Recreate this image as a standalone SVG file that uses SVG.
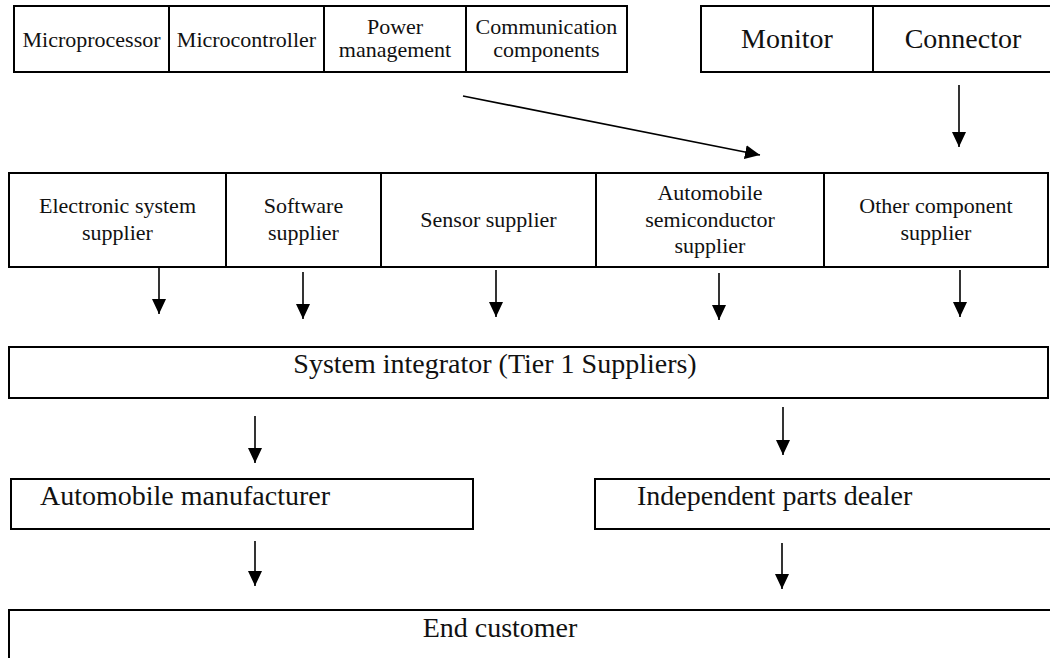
<svg xmlns="http://www.w3.org/2000/svg" width="1050" height="658" viewBox="0 0 1050 658">
  <style>
    .box { fill: #ffffff; stroke: #000000; stroke-width: 2; }
    .div { stroke: #000000; stroke-width: 2; }
    .t { font-family: "Liberation Serif", "Times New Roman", serif; fill: #111111; text-anchor: middle; }
    .s { font-size: 22px; }
    .l { font-size: 28px; }
    .arrow { stroke: #000000; stroke-width: 1.6; fill: none; marker-end: url(#head); }
  </style>
  <defs>
    <marker id="head" viewBox="0 0 15 14" refX="15" refY="7" markerWidth="15" markerHeight="14" markerUnits="userSpaceOnUse" orient="auto">
      <path d="M0,0 L15,7 L0,14 Z" fill="#000000"/>
    </marker>
  </defs>
  <rect width="1050" height="658" fill="#ffffff"/>

  <!-- semiconductor component categories -->
  <g id="components">
    <rect class="box" x="14" y="6" width="613" height="66"/>
    <line class="div" x1="169" y1="6" x2="169" y2="72"/>
    <line class="div" x1="324" y1="6" x2="324" y2="72"/>
    <line class="div" x1="466" y1="6" x2="466" y2="72"/>
    <text class="t s" x="91.5" y="47">Microprocessor</text>
    <text class="t s" x="246.5" y="47">Microcontroller</text>
    <text class="t s" x="395" y="34">Power</text>
    <text class="t s" x="395" y="57">management</text>
    <text class="t s" x="546.5" y="34">Communication</text>
    <text class="t s" x="546.5" y="57">components</text>
  </g>

  <!-- other parts -->
  <g id="other-parts">
    <rect class="box" x="701" y="6" width="370" height="66"/>
    <line class="div" x1="873" y1="6" x2="873" y2="72"/>
    <text class="t l" x="787" y="48">Monitor</text>
    <text class="t l" x="963" y="48">Connector</text>
  </g>

  <!-- supplier tier -->
  <g id="suppliers">
    <rect class="box" x="9" y="173" width="1039" height="94"/>
    <line class="div" x1="226" y1="173" x2="226" y2="267"/>
    <line class="div" x1="381" y1="173" x2="381" y2="267"/>
    <line class="div" x1="596" y1="173" x2="596" y2="267"/>
    <line class="div" x1="824" y1="173" x2="824" y2="267"/>
    <text class="t s" x="117.5" y="213">Electronic system</text>
    <text class="t s" x="117.5" y="240">supplier</text>
    <text class="t s" x="303.5" y="213">Software</text>
    <text class="t s" x="303.5" y="240">supplier</text>
    <text class="t s" x="488.5" y="227">Sensor supplier</text>
    <text class="t s" x="710" y="200">Automobile</text>
    <text class="t s" x="710" y="227">semiconductor</text>
    <text class="t s" x="710" y="253">supplier</text>
    <text class="t s" x="936" y="213">Other component</text>
    <text class="t s" x="936" y="240">supplier</text>
  </g>

  <g id="integrator">
    <rect class="box" x="9" y="347" width="1039" height="51"/>
    <text class="t l" x="495" y="373">System integrator (Tier 1 Suppliers)</text>
  </g>

  <g id="manufacturer">
    <rect class="box" x="11" y="479" width="462" height="50"/>
    <text class="t l" x="40" y="505" style="text-anchor:start">Automobile manufacturer</text>
  </g>

  <g id="dealer">
    <rect class="box" x="595" y="479" width="470" height="50"/>
    <text class="t l" x="637" y="505" style="text-anchor:start">Independent parts dealer</text>
  </g>

  <g id="customer">
    <rect class="box" x="9" y="610" width="1060" height="80"/>
    <text class="t l" x="500" y="637">End customer</text>
  </g>

  <!-- flow connectors -->
  <g id="connectors">
    <line class="arrow" x1="463" y1="96" x2="760" y2="155"/>
    <line class="arrow" x1="959" y1="85" x2="959" y2="147"/>
    <line class="arrow" x1="159" y1="268" x2="159" y2="314"/>
    <line class="arrow" x1="303" y1="272" x2="303" y2="319"/>
    <line class="arrow" x1="496" y1="270" x2="496" y2="317"/>
    <line class="arrow" x1="719" y1="273" x2="719" y2="320"/>
    <line class="arrow" x1="960" y1="270" x2="960" y2="317"/>
    <line class="arrow" x1="255" y1="416" x2="255" y2="463"/>
    <line class="arrow" x1="783" y1="407" x2="783" y2="455"/>
    <line class="arrow" x1="255" y1="541" x2="255" y2="586"/>
    <line class="arrow" x1="782" y1="543" x2="782" y2="589"/>
  </g>
</svg>
